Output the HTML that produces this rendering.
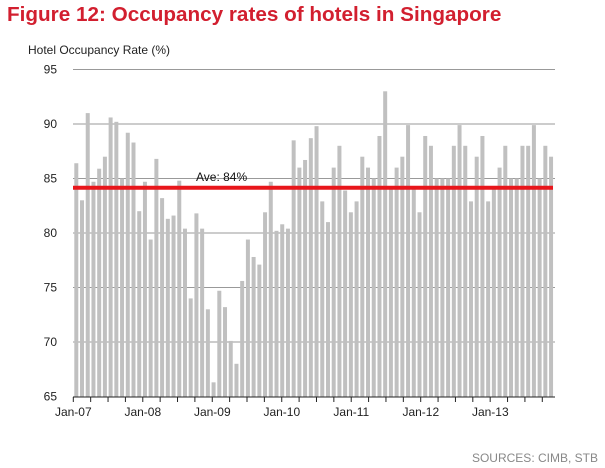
<!DOCTYPE html>
<html><head><meta charset="utf-8"><style>
html,body{margin:0;padding:0;background:#fff;width:605px;height:468px;overflow:hidden}
svg{display:block;font-family:"Liberation Sans",Arial,sans-serif}
</style></head><body>
<svg id="c" width="605" height="468" xmlns="http://www.w3.org/2000/svg">
<text x="7" y="21" font-size="20.7" font-weight="bold" fill="#d21f2f">Figure 12: Occupancy rates of hotels in Singapore</text>
<text x="28" y="54" font-size="12" fill="#222">Hotel Occupancy Rate (%)</text>
<g id="grid" stroke="#999" stroke-width="1"></g>
<g id="bars" fill="#c0c0c0"></g>
<line x1="73" y1="187.7" x2="553" y2="187.7" stroke="#e8161b" stroke-width="4"/>
<text x="196" y="181" font-size="12" fill="#111">Ave: 84%</text>
<line x1="73" y1="397" x2="555" y2="397" stroke="#222" stroke-width="1"/>
<g id="ticks" stroke="#222" stroke-width="1"></g>
<g id="lbl" font-size="12" fill="#222"></g>
<text x="598" y="462" font-size="12" fill="#888" text-anchor="end">SOURCES: CIMB, STB</text>
</svg>
<script>
var ns="http://www.w3.org/2000/svg";
function el(p,t,a,txt){var e=document.createElementNS(ns,t);for(var k in a)e.setAttribute(k,a[k]);if(txt)e.textContent=txt;document.getElementById(p).appendChild(e);}
function y(v){return 69.5+(95-v)*10.9;}
[95,90,85,80,75,70].forEach(function(v){el("grid","line",{x1:73,x2:555,y1:y(v),y2:y(v)});});
[95,90,85,80,75,70,65].forEach(function(v){el("lbl","text",{x:57,y:y(v)+4,"text-anchor":"end"},String(v));});
var d=[86.4,83.0,91.0,84.7,85.9,87.0,90.6,90.2,85.0,89.2,88.3,82.0,84.7,79.4,86.8,83.2,81.3,81.6,84.8,80.4,74.0,81.8,80.4,73.0,66.3,74.7,73.2,70.1,68.0,75.6,79.4,77.8,77.1,81.9,84.7,80.2,80.8,80.4,88.5,86.0,86.7,88.7,89.8,82.9,81.0,86.0,88.0,83.9,81.9,82.9,87.0,86.0,85.0,88.9,93.0,84.3,86.0,87.0,89.9,84.0,81.9,88.9,88.0,85.0,85.0,85.0,88.0,89.9,88.0,82.9,87.0,88.9,82.9,84.0,86.0,88.0,85.0,85.0,88.0,88.0,89.9,85.0,88.0,87.0];
for(var i=0;i<d.length;i++){var x=74.3+i*5.72;el("bars","rect",{x:x.toFixed(2),y:y(d[i]).toFixed(2),width:4,height:(397-y(d[i])).toFixed(2)});}
for(var m=0;m<=81;m+=3){var tx=73.3+m*5.79;el("ticks","line",{x1:tx,x2:tx,y1:397,y2:402});}
var yrs=["Jan-07","Jan-08","Jan-09","Jan-10","Jan-11","Jan-12","Jan-13"];
for(var k=0;k<7;k++){el("lbl","text",{x:73.3+k*69.5,y:416,"text-anchor":"middle"},yrs[k]);}
</script>
</body></html>
